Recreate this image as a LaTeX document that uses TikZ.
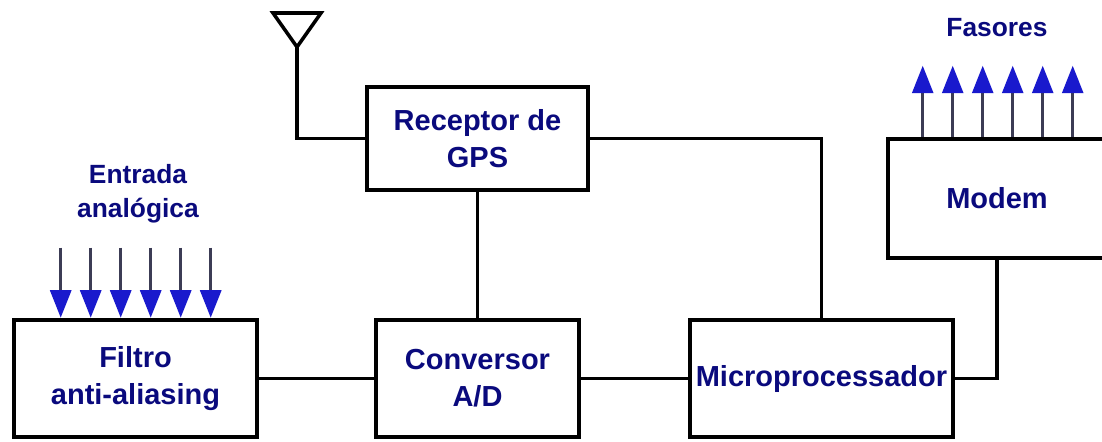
\documentclass[tikz,border=0pt]{standalone}
\usepackage{fontspec}
\setmainfont{Liberation Sans}
\usetikzlibrary{arrows.meta,calc}
\definecolor{navytext}{RGB}{10,10,125}
\definecolor{sigblue}{RGB}{25,25,205}
\definecolor{shaftgray}{RGB}{60,60,85}
\begin{document}
\begin{tikzpicture}[every node/.style={font=\fontsize{16.5}{21}\selectfont\bfseries,text=navytext},
  blk/.style={draw,line width=2.6pt,fill=white,align=center},
  wire/.style={line width=2pt},
  sig/.style={line width=1.6pt,draw=shaftgray,-{Triangle[width=0.42cm,length=0.55cm,fill=sigblue,color=sigblue]}},
  lbl/.style={font=\fontsize{15}{19.5}\selectfont\bfseries,align=center}]
\useasboundingbox (0,0) rectangle (22.04,8.82);
% Blocks
\node[blk,minimum width=4.86cm,minimum height=2.34cm] (filtro) at (2.71,1.25) {Filtro\\anti-aliasing};
\node[blk,minimum width=4.06cm,minimum height=2.34cm] (conv) at (9.55,1.25) {Conversor\\A/D};
\node[blk,minimum width=5.26cm,minimum height=2.34cm] (micro) at (16.43,1.25) {Microprocessador};
\node[blk,minimum width=4.42cm,minimum height=2.06cm] (gps) at (9.55,6.05) {Receptor de\\GPS};
\node[blk,minimum width=4.36cm,minimum height=2.38cm] (modem) at (19.94,4.85) {Modem};
% Antenna
\coordinate (ant) at (5.94,7.88);
\draw[wire,line join=miter] (ant) -- ++(-0.48,0.68) -- ++(0.96,0) -- cycle;
\draw[wire] (ant) |- (gps.west);
% Links
\draw[wire] (filtro) -- (conv);
\draw[wire] (conv) -- (micro);
\draw[wire] (gps) -- (conv);
\draw[wire] (gps.east) -| (micro.north);
\draw[wire] (micro.east) -| (modem.south);
% Inputs
\node[lbl] (entrada) at (2.76,4.94) {Entrada\\analógica};
\foreach \i in {0,...,5} {
  \coordinate (in\i) at ($(filtro.north west)+(0.98+0.6*\i,1.4)$);
  \draw[sig] (in\i) -- (in\i |- filtro.north);
}
% Outputs
\node[lbl] (fasores) at (19.94,8.26) {Fasores};
\foreach \i in {0,...,5} {
  \coordinate (out\i) at ($(modem.north west)+(0.74+0.6*\i,1.42)$);
  \draw[sig] (out\i |- modem.north) -- (out\i);
}
\end{tikzpicture}
\end{document}
